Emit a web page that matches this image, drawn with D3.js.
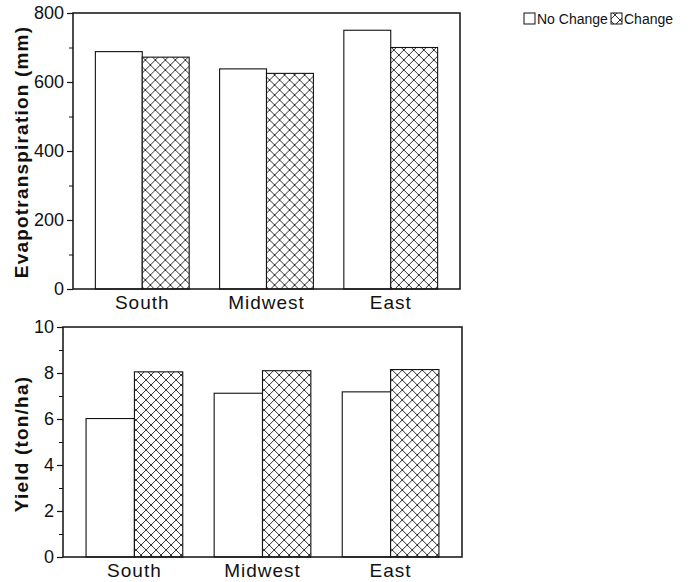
<!DOCTYPE html>
<html>
<head>
<meta charset="utf-8">
<script src="https://cdn.jsdelivr.net/npm/d3@7"></script>
<style>
  html, body { margin: 0; padding: 0; background: #fff; }
  svg { display: block; }
  text { font-family: "Liberation Sans", Arial, sans-serif; fill: #111; }
</style>
</head>
<body>
<script>
// ---- data ----
const categories = ["South", "Midwest", "East"];
const seriesNames = ["No Change", "Change"];
const etNoChange = [688, 638, 750];
const etChange = [672, 625, 700];
const yieldNoChange = [6.02, 7.12, 7.18];
const yieldChange = [8.05, 8.1, 8.15];
const etTicks = [0, 200, 400, 600, 800];
const etMinorTicks = [100, 300, 500, 700];
const yieldTicks = [0, 2, 4, 6, 8, 10];
const yieldMinorTicks = [1, 3, 5, 7, 9];

const W = 700, H = 582;
const svg = d3.select("body").append("svg").attr("width", W).attr("height", H);

const defs = svg.append("defs");
const pat = defs.append("pattern")
  .attr("id", "xhatch").attr("patternUnits", "userSpaceOnUse")
  .attr("width", 10).attr("height", 10);
pat.append("rect").attr("width", 10).attr("height", 10).attr("fill", "#fff");
pat.append("path")
  .attr("d", "M-1,-1L11,11M11,-1L-1,11")
  .attr("stroke", "#1a1a1a").attr("stroke-width", 0.9).attr("fill", "none");

function panel(opts) {
  const { left, right, top, bottom, domainMax, ticks, minor, nc, ch, title, titleY } = opts;
  const g = svg.append("g");
  const x = d3.scaleBand().domain(categories).range([left, right])
    .paddingInner(0.245).paddingOuter(0.18);
  const xs = d3.scaleBand().domain(seriesNames).range([0, x.bandwidth()]);
  const y = d3.scaleLinear().domain([0, domainMax]).range([bottom, top]);

  const rows = categories.map((c, i) => ({ c, vals: [nc[i], ch[i]] }));
  const grp = g.selectAll(".grp").data(rows).join("g")
    .attr("transform", d => `translate(${x(d.c)},0)`);
  grp.selectAll("rect").data(d => d.vals.map((v, j) => ({ v, s: seriesNames[j] })))
    .join("rect")
    .attr("x", d => xs(d.s))
    .attr("width", xs.bandwidth())
    .attr("y", d => y(d.v))
    .attr("height", d => y(0) - y(d.v))
    .attr("fill", d => d.s === "Change" ? "url(#xhatch)" : "#fff")
    .attr("stroke", "#111").attr("stroke-width", 1.1);

  // frame
  g.append("rect").attr("x", left).attr("y", top)
    .attr("width", right - left).attr("height", bottom - top)
    .attr("fill", "none").attr("stroke", "#111").attr("stroke-width", 1.5);

  // y axis major
  const ax = g.append("g").attr("transform", `translate(${left},0)`)
    .call(d3.axisLeft(y).tickValues(ticks).tickSize(6).tickSizeOuter(0).tickPadding(3).tickFormat(d3.format("d")));
  ax.select(".domain").remove();
  ax.selectAll("line").attr("stroke", "#111").attr("stroke-width", 1.2);
  ax.selectAll("text").style("font-size", "18px").attr("fill", "#111");
  // y axis minor
  const axm = g.append("g").attr("transform", `translate(${left},0)`)
    .call(d3.axisLeft(y).tickValues(minor).tickSize(4).tickSizeOuter(0).tickFormat(""));
  axm.select(".domain").remove();
  axm.selectAll("line").attr("stroke", "#111").attr("stroke-width", 1);

  // x labels
  const xa = g.append("g").attr("transform", `translate(0,${bottom})`)
    .call(d3.axisBottom(x).tickSize(0).tickPadding(6));
  xa.select(".domain").remove();
  xa.selectAll("text").style("font-size", "19px").style("letter-spacing", "1px")
    .attr("fill", "#111").attr("dy", "0.75em");

  // y title
  g.append("text")
    .attr("transform", `translate(21,${titleY}) rotate(-90)`)
    .attr("text-anchor", "middle").attr("dominant-baseline", "central")
    .style("font-size", "19px").style("font-weight", "bold").style("letter-spacing", "1.2px")
    .text(title);
}

panel({ left: 73, right: 460, top: 13, bottom: 289, domainMax: 800,
  ticks: etTicks, minor: etMinorTicks, nc: etNoChange, ch: etChange,
  title: "Evapotranspiration (mm)", titleY: 152 });

panel({ left: 63, right: 462, top: 327, bottom: 557, domainMax: 10,
  ticks: yieldTicks, minor: yieldMinorTicks, nc: yieldNoChange, ch: yieldChange,
  title: "Yield (ton/ha)", titleY: 444 });

// legend
const leg = svg.append("g");
const legItems = [{ name: "No Change", x: 524, fill: "#fff" }, { name: "Change", x: 611, fill: "url(#xhatch)" }];
legItems.forEach(it => {
  leg.append("rect").attr("x", it.x).attr("y", 13).attr("width", 11).attr("height", 11)
    .attr("fill", it.fill).attr("stroke", "#111").attr("stroke-width", 1);
  leg.append("text").attr("x", it.x + 13).attr("y", 19)
    .attr("dominant-baseline", "central")
    .style("font-size", "14px").text(it.name);
});
</script>
</body>
</html>
